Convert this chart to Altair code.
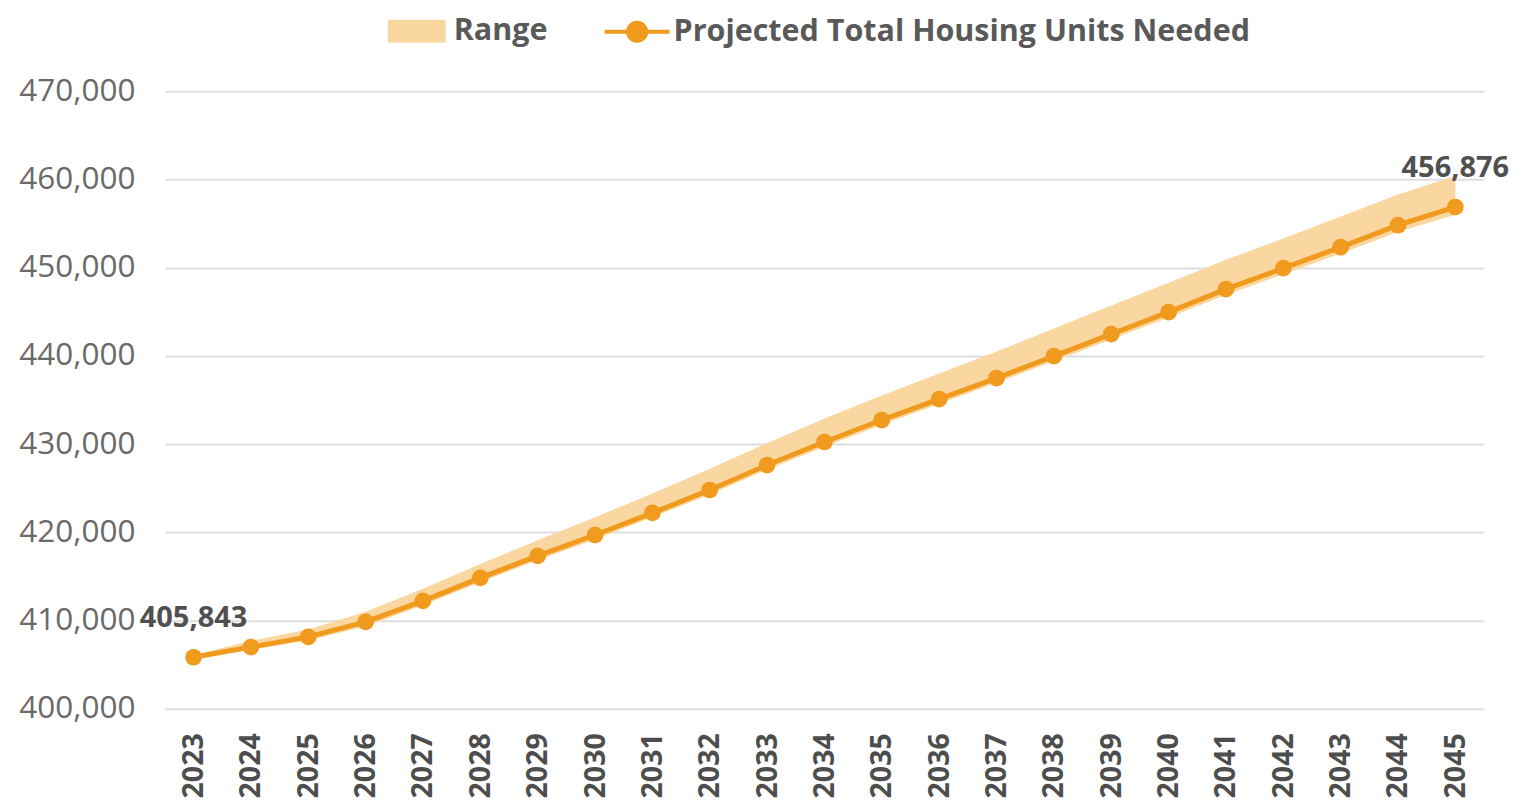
import altair as alt
import pandas as pd

years = [str(y) for y in range(2023, 2046)]
projected = [405843, 407000, 408150, 409850, 412230, 414840, 417330, 419700,
             422200, 424800, 427630, 430240, 432730, 435100, 437490, 439980,
             442470, 444960, 447560, 449940, 452320, 454810, 456876]
range_low = [405843, 406700, 407750, 409350, 411750, 414350, 416850, 419200,
             421700, 424300, 427100, 429700, 432200, 434550, 436950, 439400,
             441850, 444350, 446900, 449250, 451600, 454050, 456000]
range_high = [406100, 407700, 409000, 411000, 413600, 416400, 419100, 421700,
              424400, 427200, 430100, 432900, 435500, 438000, 440500, 443100,
              445700, 448300, 450900, 453300, 455800, 458300, 460400]
y_ticks = [400000, 410000, 420000, 430000, 440000, 450000, 460000, 470000]
band_name = "Range"
line_name = "Projected Total Housing Units Needed"

ORANGE = "#F09A1E"
BAND = "#FAD6A0"

df = pd.DataFrame({"year": years, "projected": projected,
                   "low": range_low, "high": range_high,
                   "band": band_name, "series": line_name})
ends = df.iloc[[0, -1]].copy()
ends["label"] = [f"{v:,}" for v in ends["projected"]]

x = alt.X("year:O", title=None,
          scale=alt.Scale(type="point", padding=0.5),
          axis=alt.Axis(labelAngle=-90, labelFont="Open Sans", labelFontWeight="bold",
                        labelFontSize=28.5, labelColor="#4D4D4D", labelPadding=24,
                        ticks=False, domain=False, grid=False))
yscale = alt.Scale(domain=[400000, 470000], nice=False, zero=False)
yaxis = alt.Axis(values=y_ticks, format=",d", labelFont="Open Sans", labelFontSize=31.5,
                 labelColor="#6A6A6A", labelPadding=30, ticks=False, domain=False,
                 grid=True, gridColor="#DEDEDE", gridWidth=2)

base = alt.Chart(df)

band = base.mark_area(opacity=1).encode(
    x=x,
    y=alt.Y("low:Q", scale=yscale, axis=yaxis, title=None),
    y2="high:Q",
    fill=alt.Fill("band:N", scale=alt.Scale(domain=[band_name], range=[BAND]),
                  legend=alt.Legend(title=None, orient="none", legendX=223, legendY=-89,
                                    symbolType="M-1,-0.4L1,-0.4L1,0.4L-1,0.4Z",
                                    symbolSize=3364, symbolStrokeWidth=0,
                                    symbolOpacity=1, labelOffset=8)),
)

line = base.mark_line(strokeWidth=5).encode(
    x=x,
    y=alt.Y("projected:Q", scale=yscale, title=None),
    stroke=alt.Stroke("series:N",
                      scale=alt.Scale(domain=[line_name], range=[ORANGE]),
                      legend=alt.Legend(title=None, orient="none", legendX=438, legendY=-94,
                                        symbolType="M-1,0L1,0M-0.28,0A0.28,0.28 0 1,0 0.28,0A0.28,0.28 0 1,0 -0.28,0Z",
                                        symbolSize=4225, symbolStrokeWidth=4,
                                        symbolFillColor=ORANGE, symbolOpacity=1,
                                        labelOffset=2)),
)

points = base.mark_point(filled=True, size=280, opacity=1, color=ORANGE).encode(
    x=x,
    y=alt.Y("projected:Q", scale=yscale, title=None),
)

labels = alt.Chart(ends).mark_text(font="Open Sans", fontWeight="bold", fontSize=29,
                                   color="#505050", dy=-39).encode(
    x=x,
    y=alt.Y("projected:Q", scale=yscale, title=None),
    text="label:N",
)

chart = alt.layer(band, line, points, labels).properties(
    width=1320, height=618,
    padding={"left": 157, "top": 83, "right": 40, "bottom": 90},
    autosize=alt.AutoSizeParams(type="none"),
).configure_view(stroke=None).configure_legend(
    labelFont="Open Sans", labelFontWeight="bold", labelFontSize=30.5,
    labelColor="#595959", labelLimit=800,
)

chart.save("out.html", embed_options={"renderer": "svg", "actions": False})
